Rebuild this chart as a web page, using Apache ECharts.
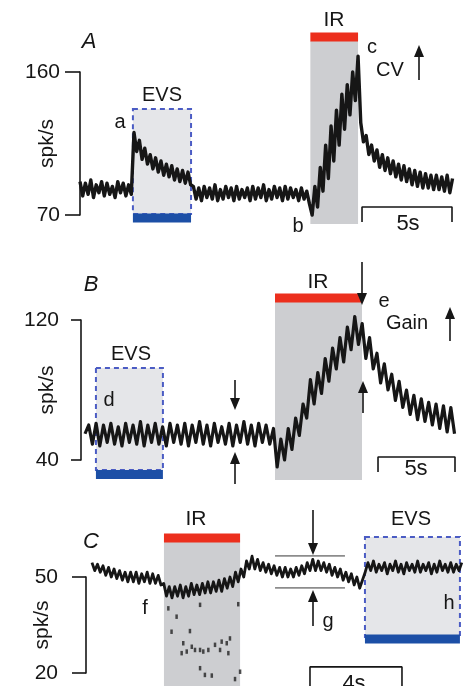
<!DOCTYPE html>
<html>
<head>
<meta charset="utf-8">
<script src="https://cdn.jsdelivr.net/npm/echarts@6/dist/echarts.min.js"></script>
<style>
  html, body { margin: 0; padding: 0; background: #fff; }
  #chart { width: 468px; height: 686px; }
</style>
</head>
<body>
<div id="chart"></div>
<script>
// ---- panel A: rate (spk/s), one value every aStep seconds from t = 0
const aStep = 0.15;
const aRate = [
  91, 82, 90, 83, 92, 81, 89, 84, 91, 82, 90, 83, 88, 81, 91, 84, 90, 82, 89, 83,
  122, 110, 117, 105, 112, 102, 108, 99, 106, 97, 104, 95, 102, 94, 101, 92, 99, 91, 98, 90, 97, 89,
  88, 80, 87, 79, 88, 81, 87, 80, 89, 79, 86, 80, 88, 81, 87, 79, 88, 80, 86, 81, 87, 79,
  88, 80, 87, 81, 89, 79, 86, 80, 88, 81, 87, 79, 88, 80, 87, 81, 86, 79, 87, 80, 85, 77,
  70, 88, 75, 100, 85, 114, 93, 126, 104, 136, 114, 146, 124, 152, 133, 160, 142, 170,
  128, 116, 120, 108, 114, 104, 111, 100, 108, 98, 106, 96, 104, 94, 102, 92, 101, 91, 99, 89,
  98, 88, 97, 87, 96, 87, 95, 86, 95, 86, 94, 85, 95, 84, 93
];
const aEvs = [2.94, 6.17];
const aIr = [12.8, 15.45];
const aTicks = [70, 160];
const aScale = [15.67, 20.67];   // 5 s

// ---- panel B
const bStart = 0.26, bStep = 0.24;
const bRate = [
  55, 60, 49, 61, 48, 60, 50, 61, 49, 59, 48, 61, 50, 60, 49, 62, 48, 60, 50, 61,
  49, 59, 48, 61, 50, 60, 49, 61, 48, 60, 50, 62, 49, 60, 48, 61, 50, 59, 49, 61,
  48, 60, 50, 62, 49, 60, 48, 61, 50, 60, 49, 58,
  36, 52, 40, 58, 46, 64, 54, 72, 64, 86, 72, 90, 78, 98, 85, 104, 92, 110, 96, 116,
  103, 122, 106, 118, 98, 110, 92, 101, 84, 95, 80, 89, 74, 85, 70, 80, 66, 77, 63, 75,
  62, 73, 60, 72, 58, 71, 56, 70, 55
];
const bEvs = [0.97, 5.32];
const bIr = [12.6, 18.25];
const bTicks = [40, 120];
const bScale = [19.29, 24.29];   // 5 s

// ---- panel C
const cStart = 0.26, cStep = 0.12;
const cRate = [
  54.5, 52, 54, 51.5, 53.5, 50.5, 53, 50, 52.5, 49.5,
  52, 49, 51.5, 48.5, 51.5, 48.5, 51.5, 48, 51, 48.5,
  51.5, 48, 51, 48, 50.5, 47.5, 48, 44, 47, 43.5,
  47, 44, 47.5, 43.5, 47, 44, 48, 44.5, 47.5, 44.5,
  48, 45, 48.5, 45, 48.5, 45.5, 49, 45.5, 49.5, 46.5,
  50, 47, 51.5, 48.5, 52.5, 50, 55, 52.5, 56.5, 52.5,
  55.5, 52, 54.5, 51.5, 54, 51, 53.5, 50.5, 53, 50,
  53, 50, 52.5, 50, 53, 50.5, 53.5, 51, 54.5, 52,
  55.5, 52, 55, 52, 54.5, 51.5, 54, 50.5, 53, 50,
  52.5, 49, 51.5, 48.5, 51, 47.5, 50, 46.5, 49, 51.5,
  54.5, 52, 55, 51.5, 54, 52, 54.5, 51, 54, 52,
  55, 51.5, 54, 51, 54.5, 52, 54, 51.5, 55, 51.5,
  54, 52, 54.5, 51, 54, 51.5, 55, 52, 54, 51.5,
  54.5, 51.5, 54, 52, 54.5
];
// isolated low spikes during IR
const cDotT = [3.58, 3.72, 3.94, 4.16, 4.23, 4.38, 4.52, 4.60, 4.74, 4.96, 4.96, 4.96, 5.10,
               5.17, 5.32, 5.47, 5.61, 5.83, 5.90, 6.12, 6.19, 6.26, 6.48, 6.62, 6.70];
const cDotV = [40.2, 32.9, 37.6, 26.2, 29.3, 26.7, 33.1, 28.2, 27.2, 27.2, 21.5, 41.3, 26.7,
               19.4, 27.2, 19.2, 28.8, 27.2, 29.8, 29.3, 26.2, 30.8, 18.1, 41.5, 20.4];
const cIr = [3.39, 6.70];
const cEvs = [12.13, 16.26];
const cTicks = [20, 50];
const cScale = [9.74, 13.74];    // 4 s
const cGainT = [8.22, 11.26];
const cGainV = [46.6, 56.6];

const FONT = '"Liberation Sans", Arial, sans-serif';
const INK = '#161616';
const RED = '#ec2f1d';
const BLUE = '#1c4fa6';

const panels = [
  { rate: aRate, t0: 0, dt: aStep, ticks: aTicks, evs: aEvs, ir: aIr, scale: aScale,
    grid: { left: 80, top: 72, width: 372, height: 143 }, xMax: 20.67,
    tickLen: 15, labelGap: 20, nameGap: 22, lw: 3.4,
    irY: [64.3, 179.5], redY: 182, evsY: [70.6, 136.7], blueY: 68.1, scaleY: [65.6, 75] },
  { rate: bRate, t0: bStart, dt: bStep, ticks: bTicks, evs: bEvs, ir: bIr, scale: bScale,
    grid: { left: 81, top: 320, width: 376, height: 140 }, xMax: 24.42,
    tickLen: 10, labelGap: 22, nameGap: 23, lw: 3.2,
    irY: [28.6, 130.3], redY: 132.6, evsY: [34.3, 92.6], blueY: 31.7, scaleY: [33.1, 41.7] },
  { rate: cRate, t0: cStart, dt: cStep, ticks: cTicks, evs: cEvs, ir: cIr, scale: cScale,
    grid: { left: 86, top: 577, width: 376, height: 96 }, xMax: 16.35,
    tickLen: 14, labelGap: 28, nameGap: 33, lw: 2.8,
    irY: [14.7, 61.6], redY: 62.2, evsY: [31.25, 62.5], blueY: 30.6, scaleY: [14.7, 21.9] }
];

function renderStim(params, api) {
  const kind = api.value(4);
  const p1 = api.coord([api.value(0), api.value(2)]);
  const p2 = api.coord([api.value(1), api.value(3)]);
  const w = p2[0] - p1[0];
  if (kind >= 2) {
    return { type: 'rect', shape: { x: p1[0], y: p1[1] - 4.5, width: w, height: 9 },
      style: { fill: kind === 2 ? RED : BLUE } };
  }
  const y = Math.min(p1[1], p2[1]);
  const h = Math.abs(p2[1] - p1[1]);
  return { type: 'rect', shape: { x: p1[0], y: y, width: w, height: h },
    style: kind === 0 ? { fill: '#cdced1' }
      : { fill: '#e5e6e9', stroke: '#4b5cc4', lineWidth: 2, lineDash: [5, 4] } };
}

const grids = [], xAxes = [], yAxes = [], series = [];
panels.forEach((p, k) => {
  grids.push(Object.assign({ outerBoundsMode: 'none', containLabel: false }, p.grid));
  xAxes.push({ type: 'value', gridIndex: k, min: 0, max: p.xMax, show: false });
  yAxes.push({
    type: 'value', gridIndex: k, min: p.ticks[0], max: p.ticks[1],
    name: 'spk/s', nameLocation: 'middle', nameRotate: 90, nameGap: p.nameGap,
    nameMoveOverlap: false,
    nameTextStyle: { fontSize: 21, color: INK, fontFamily: FONT },
    axisLine: { show: true, lineStyle: { color: INK, width: 1.6 } },
    axisTick: { show: true, inside: false, length: p.tickLen, customValues: p.ticks,
      lineStyle: { color: INK, width: 1.6 } },
    axisLabel: { customValues: p.ticks, fontSize: 21, color: INK, fontFamily: FONT, margin: p.labelGap },
    splitLine: { show: false }
  });
  const stim = [
    [p.ir[0], p.ir[1], p.irY[0], p.irY[1], 0],
    [p.evs[0], p.evs[1], p.evsY[0], p.evsY[1], 1],
    [p.ir[0], p.ir[1], p.redY, p.redY, 2],
    [p.evs[0], p.evs[1], p.blueY, p.blueY, 3]
  ];
  series.push({ type: 'custom', xAxisIndex: k, yAxisIndex: k, z: 1, clip: false,
    encode: { x: [0, 1], y: [2, 3] }, data: stim, renderItem: renderStim });
  series.push({ type: 'line', xAxisIndex: k, yAxisIndex: k, z: 3, clip: false,
    showSymbol: false, symbol: 'none',
    lineStyle: { color: INK, width: p.lw, join: 'round' },
    data: p.rate.map((v, i) => [p.t0 + i * p.dt, v]) });
  series.push({ type: 'line', xAxisIndex: k, yAxisIndex: k, z: 3, clip: false, symbol: 'none',
    lineStyle: { color: INK, width: 1.6 },
    data: [[p.scale[0], p.scaleY[0]], [p.scale[0], p.scaleY[1]],
           [p.scale[1], p.scaleY[1]], [p.scale[1], p.scaleY[0]]] });
});

// panel C extras
series.push({ type: 'scatter', xAxisIndex: 2, yAxisIndex: 2, z: 3, clip: false,
  symbol: 'rect', symbolSize: [2.5, 4.5], itemStyle: { color: '#222' },
  data: cDotT.map((t, i) => [t, cDotV[i]]) });
cGainV.forEach(v => {
  series.push({ type: 'line', xAxisIndex: 2, yAxisIndex: 2, z: 2, clip: false, symbol: 'none',
    lineStyle: { color: '#8c8c8c', width: 1.6 },
    data: [[cGainT[0], v], [cGainT[1], v]] });
});

function note(text, x, y, size, italic) {
  return { type: 'text', x: x, y: y, z: 10,
    style: { text: text, fill: INK, fontSize: size || 20, fontFamily: FONT,
      fontStyle: italic ? 'italic' : 'normal',
      align: 'center', verticalAlign: 'middle', textAlign: 'center', textVerticalAlign: 'middle' } };
}
function arrow(x, tail, tip) {
  const d = tip > tail ? 1 : -1;
  return [
    { type: 'line', z: 10, shape: { x1: x, y1: tail, x2: x, y2: tip - d * 8 },
      style: { stroke: INK, lineWidth: 1.6 } },
    { type: 'polygon', z: 10, shape: { points: [[x - 5, tip - d * 12], [x + 5, tip - d * 12], [x, tip]] },
      style: { fill: INK } }
  ];
}

const graphics = [
  note('A', 89, 42, 22, true), note('EVS', 162, 95), note('a', 120, 122), note('IR', 334, 20, 21),
  note('c', 372, 47), note('CV', 390, 70), note('b', 298, 226), note('5s', 408, 224, 22),
  ...arrow(419, 80, 45),
  note('B', 91, 285, 22, true), note('EVS', 131, 354), note('d', 109, 400), note('IR', 318, 282, 21),
  note('e', 384, 301), note('Gain', 407, 323), note('5s', 416, 469, 22),
  ...arrow(362, 262, 305), ...arrow(363, 413, 381), ...arrow(450, 341, 307),
  ...arrow(235, 380, 410), ...arrow(235, 484, 452),
  note('C', 91, 542, 22, true), note('IR', 196, 519, 21), note('f', 145, 608), note('g', 328, 621),
  note('EVS', 411, 519), note('h', 449, 603), note('4s', 354, 684, 22),
  ...arrow(313, 510, 555), ...arrow(313, 626, 590)
];

const chart = echarts.init(document.getElementById('chart'), null, { renderer: 'canvas' });
chart.setOption({
  backgroundColor: '#fff',
  animation: false,
  grid: grids,
  xAxis: xAxes,
  yAxis: yAxes,
  series: series,
  graphic: graphics
});
</script>
</body>
</html>
